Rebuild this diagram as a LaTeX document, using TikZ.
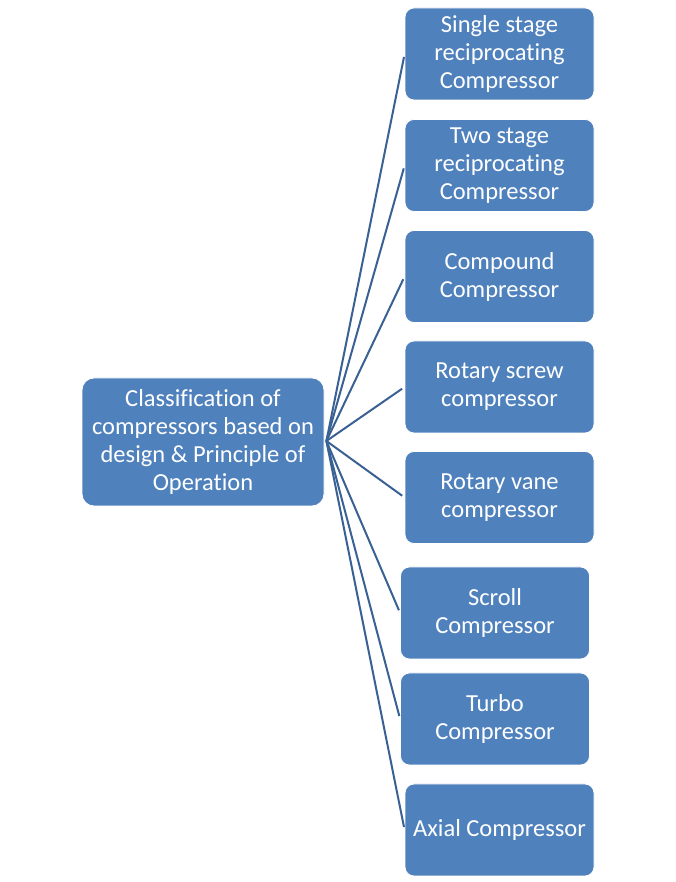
\documentclass[tikz,border=0pt]{standalone}
\usepackage{fontspec}
\setmainfont[Ligatures={NoCommon}]{Carlito}
\definecolor{boxblue}{HTML}{4F81BD}
\definecolor{linkblue}{HTML}{3A6193}
\begin{document}
\begin{tikzpicture}[x=1pt,y=1pt,
  box/.style={rounded corners=9pt, fill=boxblue, draw=white, line width=0.8pt,
    text=white, align=center, font=\fontsize{24.5}{28}\selectfont,
    minimum width=189pt, minimum height=92pt, inner sep=2pt},
  link/.style={draw=linkblue, line width=2pt, shorten >=3pt}]
\useasboundingbox[fill=white] (0,0) rectangle (675,882);
\node[box, minimum width=242pt, minimum height=128pt, rounded corners=12pt] (c) at (203,440) {Classification of\\compressors based on\\design \& Principle of\\Operation};
\node[box] (b1) at (499.5,828) {Single stage\\reciprocating\\Compressor};
\node[box] (b2) at (499.5,716.5) {Two stage\\reciprocating\\Compressor};
\node[box] (b3) at (499.5,605.5) {Compound\\Compressor};
\node[box] (b4) at (499.5,495) {Rotary screw\\compressor};
\node[box] (b5) at (499.5,384.5) {Rotary vane\\compressor};
\node[box] (b6) at (495,269) {Scroll\\Compressor};
\node[box] (b7) at (495,163) {Turbo\\Compressor};
\node[box] (b8) at (499.5,52) {Axial Compressor};
\coordinate (hub) at ([xshift=2pt,yshift=1pt]c.east);
\foreach \i in {1,...,8} \draw[link] (hub) -- (b\i.west);
\end{tikzpicture}
\end{document}
